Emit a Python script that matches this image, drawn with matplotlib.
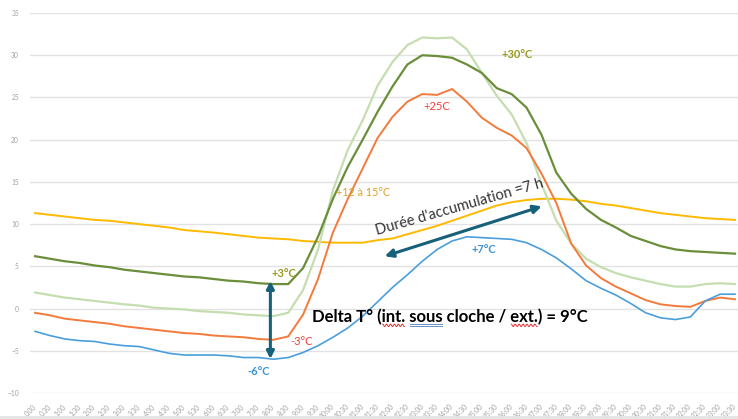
import matplotlib
matplotlib.use("Agg")
import matplotlib.pyplot as plt
from matplotlib.transforms import IdentityTransform
import numpy as np

plt.rcParams['font.family'] = ['Lato', 'DejaVu Sans']

times = ["%d:%02d" % (h, m) for h in range(24) for m in (0, 30)]

# temperatures (°C) every half hour
dark_green = [6.2, 5.9, 5.6, 5.4, 5.1, 4.9, 4.6, 4.4, 4.2, 4.0, 3.8, 3.7, 3.5, 3.3, 3.2, 3.0,
              2.9, 2.9, 4.8, 8.5, 13.0, 16.8, 20.0, 23.3, 26.3, 28.9, 30.0, 29.9, 29.7, 28.9, 27.9, 26.1,
              25.4, 23.8, 20.6, 16.1, 13.6, 11.8, 10.5, 9.6, 8.6, 8.0, 7.4, 7.0, 6.8, 6.7, 6.6, 6.5]
light_green = [1.9, 1.6, 1.3, 1.1, 0.9, 0.7, 0.5, 0.35, 0.1, 0.0, -0.1, -0.3, -0.4, -0.5, -0.7, -0.8,
               -0.9, -0.5, 2.2, 7.0, 14.0, 18.8, 22.3, 26.4, 29.2, 31.2, 32.1, 32.0, 32.1, 30.7, 27.9, 25.2,
               23.0, 19.6, 14.8, 10.4, 7.7, 5.9, 4.9, 4.2, 3.7, 3.3, 2.9, 2.6, 2.6, 2.9, 3.0, 2.9]
orange = [-0.5, -0.8, -1.2, -1.4, -1.6, -1.8, -2.1, -2.3, -2.5, -2.7, -2.9, -3.0, -3.2, -3.3, -3.4, -3.6,
          -3.7, -3.3, -0.7, 3.5, 9.0, 13.0, 16.6, 20.2, 22.7, 24.5, 25.4, 25.3, 26.0, 24.5, 22.6, 21.4,
          20.5, 19.0, 16.0, 12.5, 7.7, 5.1, 3.6, 2.6, 1.8, 1.0, 0.5, 0.3, 0.2, 0.9, 1.3, 1.1]
blue = [-2.7, -3.2, -3.6, -3.8, -3.9, -4.2, -4.4, -4.5, -4.9, -5.3, -5.5, -5.5, -5.5, -5.6, -5.8, -5.8,
        -6.0, -5.8, -5.2, -4.4, -3.4, -2.3, -0.9, 0.8, 2.5, 4.0, 5.6, 7.0, 8.0, 8.5, 8.4, 8.3,
        8.2, 7.8, 7.0, 6.0, 4.7, 3.3, 2.4, 1.6, 0.6, -0.5, -1.1, -1.3, -1.0, 0.9, 1.7, 1.7]
yellow = [11.3, 11.1, 10.9, 10.7, 10.5, 10.4, 10.2, 10.0, 9.8, 9.6, 9.3, 9.15, 9.0, 8.8, 8.6, 8.4,
          8.3, 8.2, 8.0, 7.9, 7.8, 7.8, 7.8, 8.1, 8.3, 8.8, 9.3, 9.8, 10.4, 11.0, 11.6, 12.2,
          12.6, 12.85, 13.0, 13.0, 12.9, 12.7, 12.4, 12.2, 11.9, 11.6, 11.3, 11.1, 10.9, 10.7, 10.6, 10.5]

x = np.arange(len(times))

fig = plt.figure(figsize=(7.38, 4.19), dpi=100)
ax = fig.add_axes([30 / 738, 26 / 419, 708 / 738, 380 / 419])

ax.plot(x, yellow, c='#FFB900', lw=1.4)
ax.plot(x, light_green, c='#C5DEB0', lw=1.6)
ax.plot(x, dark_green, c='#6A8E3A', lw=1.6)
ax.plot(x, orange, c='#F47A3C', lw=1.4)
ax.plot(x, blue, c='#4A9EDC', lw=1.2)

ax.set_xlim(-0.34, 47.2)
ax.set_ylim(-10, 35)
ax.set_yticks(range(-10, 36, 5))
ax.set_xticks(x)
ax.set_xticklabels(times, rotation=45, ha='right', va='center', rotation_mode='anchor')
ax.tick_params(axis='x', length=0, pad=9, labelsize=4.8, labelcolor='#A0A0A0')
ax.tick_params(axis='y', length=0, pad=8, labelsize=4.8, labelcolor='#A0A0A0')
ax.grid(axis='y', color='#E2E2E2', lw=1)
ax.set_axisbelow(True)
ax.spines[['right', 'top', 'left', 'bottom']].set_visible(False)

# labels
ax.text(32.4, 30.1, '+30°C', color='#9A9A20', fontsize=8, weight='bold', ha='center', va='center')
ax.text(27.0, 23.9, '+25C', color='#F0413A', fontsize=8, ha='center', va='center')
ax.text(22.0, 13.75, '+12 à 15°C', color='#E0A12A', fontsize=7.8, ha='center', va='center')
ax.text(28.5, 12.0, "Durée d'accumulation =7 h", color='#333333', fontsize=10.5,
        rotation=16, ha='center', va='center')
ax.text(30.1, 7.0, '+7°C', color='#3A92D4', fontsize=8, weight='bold', ha='center', va='center')
ax.text(16.7, 4.1, '+3°C', color='#9A9A20', fontsize=8, weight='bold', ha='center', va='center')
ax.text(17.9, -3.9, '-3°C', color='#F0413A', fontsize=8, ha='center', va='center')
ax.text(15.0, -7.4, '-6°C', color='#3A92D4', fontsize=8, weight='bold', ha='center', va='center')

delta = 'Delta T° (int. sous cloche / ext.) = 9°C'
dprops = dict(color='black', fontsize=12, weight='bold', va='center')
dt = ax.text(18.6, -1.0, delta, ha='left', **dprops)

arrow_c = '#17607A'
ax.annotate('', xy=(23.3, 6.1), xytext=(34.2, 12.2),
            arrowprops=dict(arrowstyle='<|-|>', color=arrow_c, lw=2.2, mutation_scale=12))
ax.annotate('', xy=(15.8, 3.6), xytext=(15.8, -6.3),
            arrowprops=dict(arrowstyle='<|-|>', color=arrow_c, lw=2.2, mutation_scale=11))

fig.add_artist(plt.Line2D([0, 1], [2 / 419, 2 / 419], color='#E4E4E4', lw=2))

# spell-check marks under some words of the Delta T text
fig.canvas.draw()
rend = fig.canvas.get_renderer()
bb = dt.get_window_extent(rend)


def span(word):
    start = delta.index(word)
    t = ax.text(0, 0, delta[:start], **dprops)
    x0 = bb.x0 + t.get_window_extent(rend).width if start else bb.x0
    t.set_text(delta[:start + len(word)])
    x1 = bb.x0 + t.get_window_extent(rend).width
    t.remove()
    return x0, x1


base = bb.y0 + 1
for word, kind in [('int.', 'wave'), ('sous', 'double'), ('ext.', 'wave')]:
    x0, x1 = span(word)
    if kind == 'wave':
        xs = np.linspace(x0 + 1, x1 - 1, 60)
        ys = base - 1.2 + 1.2 * np.sin((xs - x0) * 1.6)
        fig.add_artist(plt.Line2D(xs, ys, color='#E03030', lw=0.7, transform=IdentityTransform()))
    else:
        for dy in (0, 2.2):
            fig.add_artist(plt.Line2D([x0 + 1, x1 - 1], [base - dy, base - dy], color='#6A8FC8',
                                      lw=0.7, transform=IdentityTransform()))

fig.savefig('out.png', dpi=100)
